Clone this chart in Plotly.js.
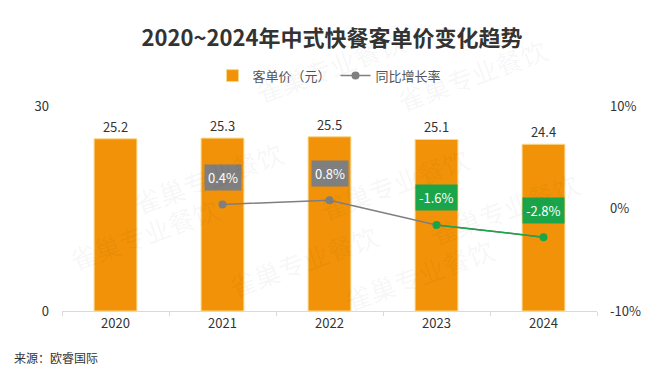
<!DOCTYPE html>
<html><head><meta charset="utf-8">
<script src="https://cdn.plot.ly/plotly-3.0.1.min.js"></script>
<style>html,body{margin:0;padding:0;background:#fff}#c{width:664px;height:369px}</style>
</head><body><div id="c"></div>
<script>
const years = ['2020','2021','2022','2023','2024'];
const price = [25.2, 25.3, 25.5, 25.1, 24.4];
const growthYears = ['2021','2022','2023','2024'];
const growth = [0.4, 0.8, -1.6, -2.8];
const growthLabels = ['0.4%','0.8%','-1.6%','-2.8%'];

const FONT = '"Noto Sans CJK SC", "Noto Sans", sans-serif';
const ORANGE = '#F29208';
const GRAY = '#7F7F7F';
const GREEN = '#1BA54A';

const traces = [
  {type:'bar', x: years, y: price, name:'客单价（元）', width:0.4,
   marker:{color:ORANGE, line:{color:'#F8D98A', width:1}},
   text: price.map(v=>v.toFixed(1)), textposition:'outside',
   textfont:{size:13, color:'#333', family:FONT}, cliponaxis:false,
   hoverinfo:'skip'},
  {type:'scatter', mode:'lines+markers', x: growthYears, y: growth, yaxis:'y2',
   name:'同比增长率', line:{color:GRAY, width:1.5},
   marker:{size:8, color: growth.map(v=>v>=0?GRAY:GREEN)}, hoverinfo:'skip'},
  {type:'scatter', mode:'lines', x: growthYears.slice(2), y: growth.slice(2),
   yaxis:'y2', line:{color:GREEN, width:1.5}, showlegend:false, hoverinfo:'skip'}
];

const annotations = growthYears.map((yr,i)=>({
  x: years.indexOf(yr), y: growth[i], xref:'x', yref:'y2', text: growthLabels[i], showarrow:false,
  yshift: 27, bgcolor: growth[i]>=0?GRAY:GREEN, borderpad:3,
  font:{color:'#fff', size:13, family:FONT}
}));
annotations.push({xref:'paper', yref:'paper', x:-0.093, y:-0.225, xanchor:'left', yanchor:'middle',
  text:'来源：欧睿国际', showarrow:false, font:{size:12, color:'#333', family:FONT}});

const wm = [[0.5,1.42],[0.92,1.38],[0.12,0.88],[0.62,0.62],[0.98,0.5],[0.0,0.15],[0.45,0.02],[0.82,-0.05]];
wm.forEach(p=>annotations.push({xref:'paper', yref:'paper', x:p[0], y:p[1], text:'雀巢专业餐饮',
  showarrow:false, textangle:-20, font:{size:26, color:'rgba(0,0,0,0.05)', family:FONT}}));

const layout = {
  width:664, height:369, margin:{l:62, r:67, t:106, b:58},
  paper_bgcolor:'#fff', plot_bgcolor:'#fff',
  font:{family:FONT, color:'#333'},
  title:{text:'<b>2020~2024年中式快餐客单价变化趋势</b>', x:0.5, xanchor:'center', y:0.897, yanchor:'middle',
    font:{size:22, color:'#333', family:FONT}},
  showlegend:true,
  legend:{orientation:'h', x:0.5, xanchor:'center', y:1.148, yanchor:'middle',
    font:{size:13, color:'#555', family:FONT}, traceorder:'normal'},
  bargap:0.6,
  xaxis:{type:'category', range:[-0.5, 4.5], showgrid:false, ticks:'outside', tickson:'boundaries', ticklen:4,
    tickcolor:'#d9d9d9', showline:true, linecolor:'#d9d9d9', linewidth:1,
    tickfont:{size:13, color:'#333'}},
  yaxis:{range:[0,30], tickvals:[0,30], showgrid:false, zeroline:false, showline:false,
    ticks:'', tickfont:{size:13, color:'#333'}, ticklabelstandoff:12},
  yaxis2:{range:[-10,10], tickvals:[-10,0,10], ticktext:['-10%','0%','10%'], overlaying:'y', side:'right',
    showgrid:false, zeroline:false, showline:false, tickfont:{size:13, color:'#333'}, ticklabelstandoff:12},
  annotations: annotations
};
Plotly.newPlot('c', traces, layout, {displayModeBar:false, staticPlot:true});
</script></body></html>
